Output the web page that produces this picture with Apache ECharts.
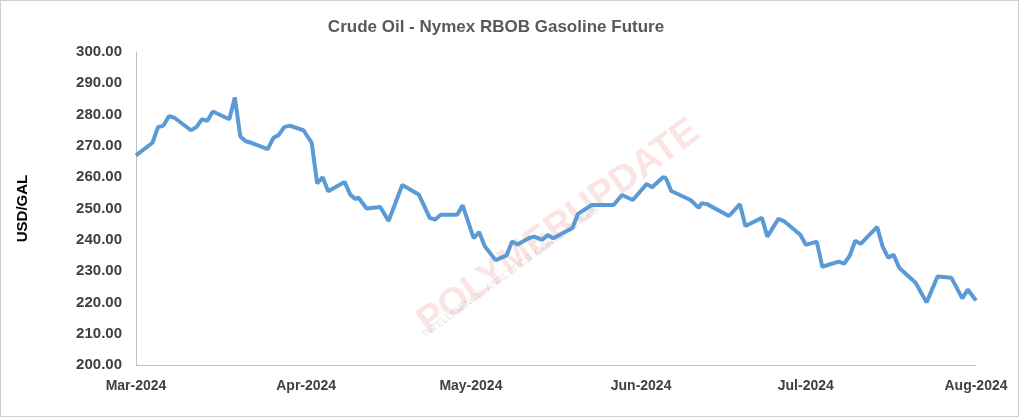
<!DOCTYPE html>
<html><head><meta charset="utf-8">
<script src="https://cdn.jsdelivr.net/npm/echarts@6/dist/echarts.min.js"></script>
<style>html,body{margin:0;padding:0;background:#fff}#c{width:1017px;height:415px;border:1px solid #d0d0d0}</style>
</head><body><div id="c"></div>
<script>
const dayOffsets=[0,3,4,5,6,7,10,11,12,13,14,17,18,19,20,21,24,25,26,27,28,30.5,32,33,34,35,38,39,40,40.5,42,44.5,46,48.5,51.5,53.5,54.5,55.5,58.5,59.5,61.5,62.5,63.5,65.5,67.5,68.5,69.5,71.5,72.5,74,75,76,79.5,80.5,83,87,88.5,90.5,93,94,96,96.5,97.5,101,102.5,103,104,108,110,111,114,115,117,118,121,122,124,125,128,129,130,131,132,135,136,137,138,139,142,144,146,148.5,150.5,151.5,153];
const prices=[267,271,276,276.5,279.5,279,275,276,278.5,278,281,278.5,285.5,273,271.5,271,269,272.5,273.5,276,276.5,275,271,258,260,255.5,258.5,254.5,253,253.5,250,250.5,246,257.5,254.5,247,246.5,248,248,251,240.5,242.5,238,233.5,235,239.5,238.5,240.5,241,240,241.5,240.5,243.8,248.3,251.1,251.1,254.3,252.7,257.8,256.8,260,259.7,255.6,252.7,250.2,251.7,251.4,247.6,251.4,244.4,247,241,246.7,246,241.6,238.4,239.4,231.4,233,232.4,234.9,239.7,238.7,244.1,237.8,234.3,235.2,231.1,226.3,220,228.3,227.9,221.3,224.1,220.6];
const tickDays=[0,31,61,92,122,153];
const tickLabels=['Mar-2024','Apr-2024','May-2024','Jun-2024','Jul-2024','Aug-2024'];
const data=dayOffsets.map((d,i)=>[d,prices[i]]);
const chart=echarts.init(document.getElementById('c'));
chart.setOption({
  title:{text:'Crude Oil - Nymex RBOB Gasoline Future',left:490,top:13,textAlign:'center',textStyle:{fontFamily:'Liberation Sans',fontSize:17,fontWeight:'bold',color:'#595959'}},
  graphic:[{type:'text',x:410,y:310,rotation:Math.PI*0.2,style:{text:'POLYMERUPDATE',font:'bold 38px Liberation Sans',fill:'rgba(230,120,120,0.2)'}},
           {type:'text',x:420,y:330,rotation:Math.PI*0.2,style:{text:'INTELLIGENCE  ANALYTICS  CONFERENCES',font:'10px Liberation Sans',fill:'rgba(150,150,150,0.25)'}}],
  grid:{left:135,right:42,top:51,bottom:51},
  xAxis:{type:'value',min:0,max:153,
    axisLine:{lineStyle:{color:'#bfbfbf'}},axisTick:{show:false},splitLine:{show:false},
    axisLabel:{customValues:tickDays,formatter:v=>tickLabels[tickDays.indexOf(v)]||'',fontFamily:'Liberation Sans',fontSize:14,fontWeight:'bold',color:'#404040',margin:14}},
  yAxis:{type:'value',min:200,max:300,interval:10,name:'USD/GAL',nameLocation:'middle',nameGap:106,
    nameTextStyle:{fontFamily:'Liberation Sans',fontSize:15,fontWeight:'bold',color:'#000'},
    axisLine:{show:true,lineStyle:{color:'#bfbfbf'}},axisTick:{show:false},splitLine:{show:false},
    axisLabel:{formatter:v=>v.toFixed(2),fontFamily:'Liberation Sans',fontSize:15,fontWeight:'bold',color:'#404040',margin:14}},
  series:[{type:'line',data:data,showSymbol:false,lineStyle:{color:'#5b9bd5',width:4},itemStyle:{color:'#5b9bd5'}}]
});
</script></body></html>
